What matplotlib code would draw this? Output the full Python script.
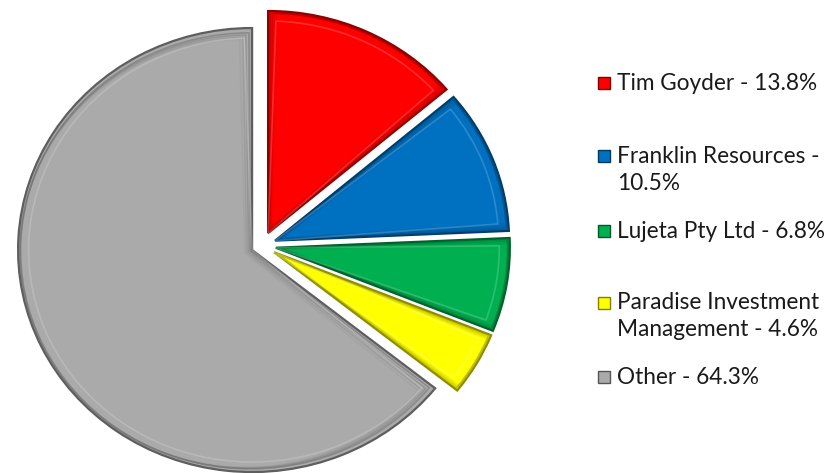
import matplotlib
matplotlib.use("Agg")
import matplotlib.pyplot as plt
from matplotlib.patches import Rectangle
import matplotlib.patches as mp
import matplotlib.colors as mcolors
import numpy as np

names = ["Tim Goyder", "Franklin Resources", "Lujeta Pty Ltd",
         "Paradise Investment Management", "Other"]
values = [13.8, 10.5, 6.8, 4.6, 64.3]
legend_labels = ["Tim Goyder - 13.8%", "Franklin Resources -\n10.5%",
                 "Lujeta Pty Ltd - 6.8%", "Paradise Investment\nManagement - 4.6%",
                 "Other - 64.3%"]
colors = ["#FF0000", "#0070C0", "#00B050", "#FFFF00", "#AAAAAA"]
explode = [0.062, 0.06, 0.06, 0.06, 0.047]

W, H = 833, 473
fig = plt.figure(figsize=(W / 100, H / 100), dpi=100)
RX, RY = 234.0, 222.0
cx, cy = 262.0, H - 245.5
L = 1.15
ax = fig.add_axes([(cx - L * RX) / W, (cy - L * RY) / H, 2 * L * RX / W, 2 * L * RY / H])

def darker(c, f=0.6):
    r, g, b = mcolors.to_rgb(c)
    return (r * f, g * f, b * f)

def lighter(c, f=0.5):
    r, g, b = mcolors.to_rgb(c)
    return (r + (1 - r) * f, g + (1 - g) * f, b + (1 - b) * f)

wedges, _ = ax.pie(values, colors=colors, startangle=90, counterclock=False,
                   explode=explode, radius=1.0,
                   wedgeprops=dict(edgecolor="none", linewidth=0))
ax.set_xlim(-L, L)
ax.set_ylim(-L, L)
ax.set_aspect("auto")
ax.axis("off")

for w, c in zip(wedges, colors):
    w.set_clip_on(False)
    w.set_edgecolor(darker(c, 0.55))
    w.set_linewidth(1.6)

# soft bevel: graded darker band just inside the edge, then a faint highlight
for w, c in zip(wedges, colors):
    x0, y0 = w.center
    t1, t2 = w.theta1, w.theta2
    for k, a in enumerate([0.45, 0.3, 0.18, 0.08]):
        d = 0.006 * (k + 1)
        tm = (t1 + t2) / 2
        dx = d * 1.4 * np.cos(np.radians(tm))
        dy = d * 1.4 * np.sin(np.radians(tm))
        span = max(t2 - t1, 1)
        dt = np.degrees(d / 0.5) if span > 30 else np.degrees(d / 0.6)
        p = mp.Wedge((x0 + dx, y0 + dy), w.r - d - 0.012, t1 + dt * 0.5, t2 - dt * 0.5,
                     facecolor="none", edgecolor=darker(c, 0.6), linewidth=1.2,
                     alpha=a)
        p.set_clip_on(False)
        ax.add_patch(p)
    hl = mp.Wedge((x0, y0), w.r - 0.045, t1 + 2.0, t2 - 2.0, facecolor="none",
                  edgecolor=lighter(c, 0.5), linewidth=1.2, alpha=0.35)
    hl.set_clip_on(False)
    ax.add_patch(hl)

# legend
fam = ["Lato", "DejaVu Sans"]
ys = [83, 170, 231, 316, 377]
for lab, c, y in zip(legend_labels, colors, ys):
    nlines = lab.count("\n") + 1
    ytop = y - (nlines - 1) * 13.5
    fig.patches.append(Rectangle((598 / W, (H - ytop - 6) / H), 12 / W, 12 / H,
                                 transform=fig.transFigure, facecolor=c,
                                 edgecolor=darker(c, 0.5), linewidth=1))
    fig.text(617 / W, (H - y) / H, lab, ha="left", va="center", fontsize=16.3,
             family=fam, color="#1a1a1a", linespacing=1.3)

fig.savefig("out.png", dpi=100)
